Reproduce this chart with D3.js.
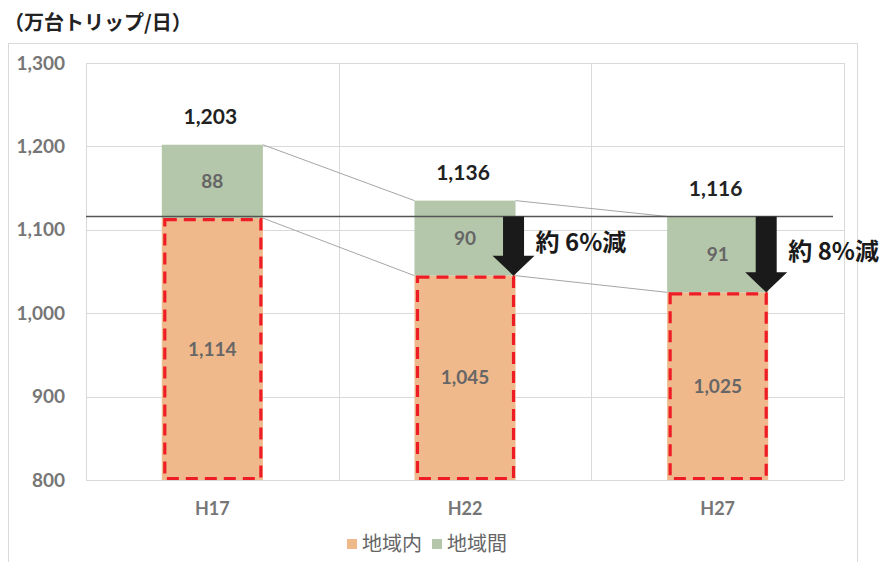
<!DOCTYPE html>
<html>
<head>
<meta charset="utf-8">
<script src="https://cdn.jsdelivr.net/npm/d3@7"></script>
<style>
  body { margin: 0; background: #fff; }
  svg { display: block; }
</style>
</head>
<body>
<div id="chart"></div>
<script>
'use strict';

// data
var categories = ["H17", "H22", "H27"]
var intraValues = [1114, 1045, 1025]   // 地域内
var interValues = [88, 90, 91]         // 地域間
var totalLabels = ["1,203", "1,136", "1,116"]
var totals = [1203, 1136, 1116]
var reductionLabels = [null, "約 6%減", "約 8%減"]
var yTicks = [800, 900, 1000, 1100, 1200, 1300]
var seriesNames = ["地域内", "地域間"]
var refValue = 1116

var W = 880, H = 562
var jp = "'Noto Sans CJK JP', 'Noto Sans', sans-serif"
var num = "Lato, 'Open Sans', sans-serif"
var colors = { intra: "#F0B98C", inter: "#B5C7AA" }

var svg = d3.select("#chart").append("svg").attr("width", W).attr("height", H)

// chart frame
svg.append("rect").attr("x", 8.5).attr("y", 43.5).attr("width", 849).attr("height", 540)
  .attr("fill", "none").attr("stroke", "#d9d9d9")

svg.append("text").text("（万台トリップ/日）")
  .attr("x", 4).attr("y", 30)
  .style("font-family", jp).style("font-size", "20px").style("font-weight", "700").attr("fill", "#222")

var x = d3.scaleBand().domain(categories).range([86, 844]).paddingInner(0.6).paddingOuter(0.3)
var y = d3.scaleLinear().domain([800, 1300]).range([480, 63]).clamp(true)
var bw = x.bandwidth()

var rows = categories.map(function(c, i) {
  return { cat: c, intra: intraValues[i], inter: interValues[i], total: totals[i] }
})
var stacked = d3.stack().keys(["intra", "inter"])(rows)

// grid
var grid = svg.append("g")
grid.selectAll("line.h").data(yTicks).enter().append("line")
  .attr("x1", 86).attr("x2", 844)
  .attr("y1", function(d) { return Math.round(y(d)) + 0.5 })
  .attr("y2", function(d) { return Math.round(y(d)) + 0.5 })
  .attr("stroke", "#d9d9d9")
var step = x.step()
grid.selectAll("line.v").data(d3.range(categories.length + 1)).enter().append("line")
  .attr("x1", function(k) { return Math.round(86 + k * step) + 0.5 })
  .attr("x2", function(k) { return Math.round(86 + k * step) + 0.5 })
  .attr("y1", 63).attr("y2", 480)
  .attr("stroke", "#d9d9d9")

// y tick labels
svg.append("g").selectAll("text").data(yTicks).enter().append("text")
  .text(function(d) { return d3.format(",")(d) })
  .attr("x", 65).attr("y", function(d) { return y(d) })
  .attr("dy", "0.35em").attr("text-anchor", "end")
  .style("font-family", num).style("font-size", "19px").style("font-weight", "700").attr("fill", "#767676")

// x labels
svg.append("g").selectAll("text").data(categories).enter().append("text")
  .text(function(d) { return d })
  .attr("x", function(d) { return x(d) + bw / 2 }).attr("y", 515)
  .attr("text-anchor", "middle")
  .style("font-family", num).style("font-size", "18px").style("font-weight", "700").attr("fill", "#767676")

// connector lines between bars
var conn = svg.append("g").attr("stroke", "#a6a6a6").attr("stroke-width", 1)
for (var i = 0; i < rows.length - 1; i++) {
  conn.append("line")
    .attr("x1", x(rows[i].cat) + bw).attr("y1", y(stacked[1][i][1]))
    .attr("x2", x(rows[i + 1].cat)).attr("y2", y(stacked[1][i + 1][1]))
  conn.append("line")
    .attr("x1", x(rows[i].cat) + bw).attr("y1", y(rows[i].intra))
    .attr("x2", x(rows[i + 1].cat)).attr("y2", y(rows[i + 1].intra))
}

// bars
svg.append("g").selectAll("g").data(stacked).enter().append("g")
  .attr("fill", function(d) { return colors[d.key] })
  .selectAll("rect").data(function(d) { return d }).enter().append("rect")
  .attr("x", function(d) { return x(d.data.cat) })
  .attr("y", function(d) { return y(d[1]) })
  .attr("width", bw)
  .attr("height", function(d) { return y(d[0]) - y(d[1]) })

// red dashed outlines on 地域内
svg.append("g").selectAll("rect").data(rows).enter().append("rect")
  .attr("x", function(d) { return x(d.cat) + 3 })
  .attr("y", function(d) { return y(d.intra) + 1.5 })
  .attr("width", bw - 5)
  .attr("height", function(d) { return y(800) - y(d.intra) - 3 })
  .attr("fill", "none").attr("stroke", "#EE1C25").attr("stroke-width", 3.2)
  .attr("stroke-dasharray", "12,7")

// reference line
svg.append("line")
  .attr("x1", 86).attr("x2", 833)
  .attr("y1", y(refValue)).attr("y2", y(refValue))
  .attr("stroke", "#555").attr("stroke-width", 1.5)

// segment labels
svg.append("g").selectAll("text").data(stacked[0]).enter().append("text")
  .text(function(d) { return d3.format(",")(d.data.intra) })
  .attr("x", function(d) { return x(d.data.cat) + bw / 2 })
  .attr("y", function(d) { return (y(d[0]) + y(d[1])) / 2 })
  .attr("dy", "0.35em").attr("text-anchor", "middle")
  .style("font-family", num).style("font-size", "19px").style("font-weight", "700").attr("fill", "#666")
svg.append("g").selectAll("text").data(stacked[1]).enter().append("text")
  .text(function(d) { return d.data.inter })
  .attr("x", function(d) { return x(d.data.cat) + bw / 2 })
  .attr("y", function(d) { return (y(d[0]) + y(d[1])) / 2 })
  .attr("dy", "0.35em").attr("text-anchor", "middle")
  .style("font-family", num).style("font-size", "19px").style("font-weight", "700").attr("fill", "#666")

// totals
svg.append("g").selectAll("text").data(rows).enter().append("text")
  .text(function(d, i) { return totalLabels[i] })
  .attr("x", function(d) { return x(d.cat) + bw / 2 - 2 })
  .attr("y", function(d) { return y(d.total) - 20 })
  .attr("text-anchor", "middle")
  .style("font-family", num).style("font-size", "21px").style("font-weight", "700").attr("fill", "#222")

// arrows + reduction text
rows.forEach(function(d, i) {
  if (!reductionLabels[i]) return
  var tipX = x(d.cat) + bw - 2
  var tipY = y(d.intra)
  var topY = y(refValue)
  var headH = 20, headW = 21, shaftW = 10.5
  var pts = [
    [tipX - shaftW, topY], [tipX + shaftW, topY],
    [tipX + shaftW, tipY - headH], [tipX + headW, tipY - headH],
    [tipX, tipY], [tipX - headW, tipY - headH],
    [tipX - shaftW, tipY - headH]
  ]
  svg.append("polygon").attr("points", pts.map(function(p) { return p.join(",") }).join(" "))
    .attr("fill", "#1a1a1a")
  svg.append("text").text(reductionLabels[i])
    .attr("x", tipX + 22).attr("y", (topY + tipY) / 2 - 3)
    .attr("dy", "0.35em")
    .style("font-family", jp).style("font-size", "24px").style("font-weight", "700").attr("fill", "#1a1a1a")
})

// legend
var legend = svg.append("g")
var lx = [347, 432]
seriesNames.forEach(function(name, i) {
  legend.append("rect").attr("x", lx[i]).attr("y", 539).attr("width", 10).attr("height", 10)
    .attr("fill", i == 0 ? colors.intra : colors.inter)
  legend.append("text").text(name).attr("x", lx[i] + 15).attr("y", 544).attr("dy", "0.35em")
    .style("font-family", jp).style("font-size", "20px").attr("fill", "#666")
})
</script>
</body>
</html>
